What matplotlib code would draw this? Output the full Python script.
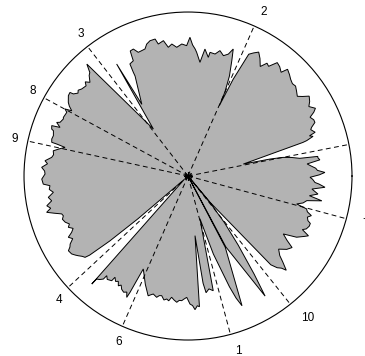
import numpy as np
import matplotlib.pyplot as plt
from matplotlib.transforms import offset_copy

# direcciones (grados, antihorario desde el este) y sus etiquetas
etiquetas = ["1", "2", "3", "4", "", "6", "7", "8", "9", "10"]
angulos = [-75.0, 66.2, 127.8, 222.9, 11.1, 246.4, -15.1, 151.5, 167.7, -51.4]

# contorno de la region rellena, por lobulos: angulo en grados, radio entre 0 y 1
ang_e = [-50.4, -50.2, -50.0, -47.0, -45.8, -44.6, -43.8, -42.2, -40.9, -38.9,
         -36.6, -34.5, -33.0, -31.3, -29.4, -27.4, -26.4, -25.1, -24.1, -22.5,
         -21.2, -20.4, -19.0, -17.8, -16.7, -15.5, -14.4, -13.2, -11.7, -10.5,
         -9.2, -7.9, -6.0, -4.7, -3.5, -2.9, -1.5, -0.6, 0.5, 1.5,
         2.5, 3.5, 4.8, 5.8, 7.0, 8.0, 8.6, 9.0, 10.2, 11.1,
         11.7, 12.2]
rad_e = [0.21, 0.0, 0.21, 0.74, 0.78, 0.80, 0.83, 0.78, 0.74, 0.71,
         0.75, 0.77, 0.72, 0.68, 0.76, 0.80, 0.82, 0.77, 0.79, 0.80,
         0.80, 0.78, 0.77, 0.79, 0.76, 0.75, 0.684, 0.72, 0.74, 0.83,
         0.75, 0.80, 0.76, 0.838, 0.80, 0.775, 0.76, 0.744, 0.80, 0.835,
         0.79, 0.78, 0.75, 0.73, 0.81, 0.80, 0.80, 0.69, 0.64, 0.59,
         0.51, 0.345]

ang_ne = [16.3, 16.6, 17.6, 18.3, 19.0, 20.7, 21.5, 22.9, 24.1, 25.7,
          26.9, 28.0, 29.9, 31.5, 33.4, 34.8, 36.1, 38.0, 39.9, 41.5,
          43.3, 45.0, 47.0, 48.1, 50.0, 51.8, 53.7, 55.0, 56.6, 58.5,
          60.3, 62.0, 63.5, 65.0, 66.0]
rad_ne = [0.73, 0.755, 0.80, 0.78, 0.82, 0.80, 0.81, 0.84, 0.84, 0.826,
          0.86, 0.88, 0.85, 0.87, 0.885, 0.85, 0.825, 0.84, 0.855, 0.85,
          0.86, 0.875, 0.89, 0.85, 0.87, 0.88, 0.83, 0.84, 0.80, 0.84,
          0.87, 0.85, 0.83, 0.65, 0.47]

ang_n = [66.3, 67.5, 69.2, 70.4, 71.7, 73.6, 75.7, 77.5, 79.9, 80.3,
         82.4, 84.0, 86.0, 86.8, 88.0, 89.2, 90.6, 92.7, 95.0, 97.0,
         98.7, 100.3, 102.7, 103.5, 105.7, 107.4, 108.7, 110.3, 111.9, 113.3,
         114.8, 115.1, 115.4, 117.4, 117.8, 117.9, 122.8, 122.5, 126.4]
rad_n = [0.56, 0.66, 0.752, 0.822, 0.783, 0.765, 0.789, 0.762, 0.766, 0.734,
         0.781, 0.697, 0.756, 0.776, 0.80, 0.846, 0.795, 0.806, 0.788, 0.811,
         0.794, 0.839, 0.825, 0.859, 0.857, 0.843, 0.818, 0.815, 0.813, 0.843,
         0.84, 0.81, 0.778, 0.77, 0.715, 0.69, 0.52, 0.81, 0.356]

ang_w = [132.1, 133.5, 134.5, 136.3, 137.5, 138.5, 140.7, 142.0, 143.0, 144.4,
         144.7, 146.1, 148.4, 149.5, 150.7, 151.4, 152.3, 154.8, 155.4, 157.2,
         157.8, 159.2, 159.7, 161.0, 161.4, 163.3, 164.8, 166.1, 166.3, 166.9,
         168.0, 169.4, 171.0, 172.2, 173.9, 175.0, 176.6, 178.0, 179.2, 181.2,
         183.2, 184.0, 185.5, 186.9, 188.7, 190.3, 191.9, 193.2, 194.4, 195.5,
         196.7, 197.7, 199.0, 200.6, 202.0, 203.2, 204.5, 205.8, 207.1, 208.5,
         210.0, 211.0, 212.0, 213.8, 215.0, 216.0, 217.2, 218.3, 218.8, 219.7,
         220.5, 222.0]
rad_w = [0.92, 0.87, 0.86, 0.827, 0.85, 0.83, 0.838, 0.85, 0.84, 0.86,
         0.882, 0.879, 0.857, 0.84, 0.813, 0.854, 0.835, 0.84, 0.836, 0.846,
         0.865, 0.835, 0.886, 0.879, 0.866, 0.857, 0.861, 0.856, 0.824, 0.77,
         0.80, 0.836, 0.83, 0.839, 0.877, 0.86, 0.894, 0.875, 0.872, 0.892,
         0.884, 0.844, 0.85, 0.827, 0.862, 0.845, 0.88, 0.86, 0.89, 0.848,
         0.804, 0.798, 0.81, 0.80, 0.78, 0.794, 0.77, 0.788, 0.82, 0.80,
         0.83, 0.84, 0.86, 0.854, 0.84, 0.827, 0.81, 0.80, 0.77, 0.62,
         0.40, 0.03]

ang_s = [228.3, 228.4, 229.5, 230.6, 230.8, 232.0, 233.9, 234.2, 235.5, 236.5,
         237.6, 238.5, 239.6, 241.0, 242.2, 243.2, 243.5, 243.8, 244.3, 248.5,
         251.6, 252.5, 253.6, 255.5, 256.5, 257.6, 259.0, 260.2, 261.2, 262.3,
         263.5, 264.9, 266.0, 267.1, 268.2, 269.4, 270.9, 272.0, 273.0, 274.1,
         275.0]
rad_s = [0.882, 0.84, 0.83, 0.813, 0.784, 0.80, 0.79, 0.761, 0.78, 0.77,
         0.793, 0.78, 0.80, 0.81, 0.80, 0.829, 0.793, 0.72, 0.629, 0.71,
         0.77, 0.76, 0.75, 0.764, 0.75, 0.747, 0.77, 0.761, 0.77, 0.746,
         0.76, 0.773, 0.76, 0.761, 0.75, 0.74, 0.781, 0.79, 0.816, 0.793,
         0.80]

# dedos estrechos entre el lobulo inferior y el de la derecha
ang_f = [276.7, 277.5, 278.0, 278.8, 280.5, 282.4, 285.6, 288.0, 290.5, 291.5,
         292.6, 297.6, 297.9, 298.1, 302.7, 304.0, 306.0, 308.0]
rad_f = [0.366, 0.50, 0.66, 0.72, 0.70, 0.716, 0.27, 0.50, 0.72, 0.80,
         0.857, 0.49, 0.0, 0.49, 0.87, 0.72, 0.52, 0.36]

theta = np.deg2rad(np.concatenate([ang_e, ang_ne, ang_n, ang_w, ang_s, ang_f]))
radio = np.concatenate([rad_e, rad_ne, rad_n, rad_w, rad_s, rad_f])

fig = plt.figure(figsize=(3.65, 3.56), dpi=100)
ax = fig.add_axes([0.0658, 0.0449, 0.8986, 0.9213], projection="polar")

ax.fill(theta, radio, facecolor=(0.7, 0.7, 0.7), edgecolor="k", linewidth=0.7)

# los numeros van un pixel por debajo del punto r=1.1
trans_texto = offset_copy(ax.transData, fig=fig, y=-1, units="dots")

# lineas discontinuas del centro al borde, con su numero fuera del circulo
for nombre, a in zip(etiquetas, angulos):
    t = np.deg2rad(a)
    ax.plot([t, t], [0, 1], color="k", linestyle=(0, (5, 3.5)), linewidth=0.7)
    if nombre:
        ax.text(t, 1.1, nombre, ha="left", va="center", fontsize=8.5,
                family="Liberation Sans", transform=trans_texto)

ax.plot(0, 0, marker=(8, 2, 0), color="k", markersize=6, markeredgewidth=0.8)

ax.set_ylim(0, 1)
ax.set_xticks([])
ax.set_yticks([])
ax.grid(False)
ax.spines["polar"].set_linewidth(0.8)

fig.savefig("out.png", dpi=100)
